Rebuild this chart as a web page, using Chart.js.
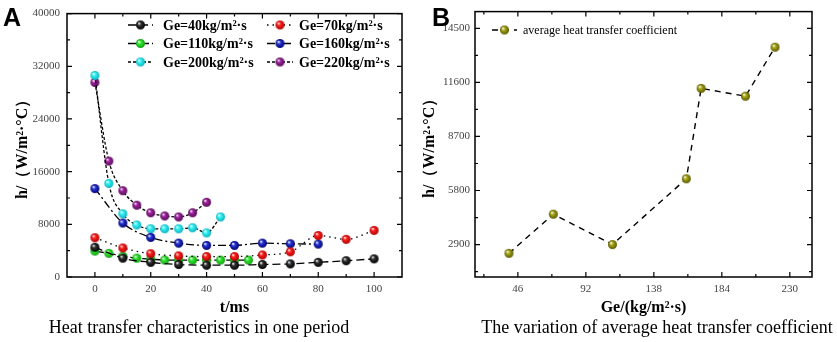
<!DOCTYPE html>
<html><head><meta charset="utf-8">
<script src="https://cdn.jsdelivr.net/npm/chart.js@4/dist/chart.umd.min.js"></script>
<style>
body{margin:0;background:#fff;width:837px;height:342px;position:relative;overflow:hidden;font-family:"Liberation Serif","Times New Roman",serif}
#ca{position:absolute;left:0;top:0}
#cb{position:absolute;left:418px;top:0}
.cap{position:absolute;top:317px;font-size:18px;line-height:21px;white-space:nowrap;transform:translateX(-50%);color:#000}
.pl{position:absolute;font-family:"Liberation Sans",Arial,sans-serif;font-weight:bold;font-size:25px;line-height:25px;color:#000}
</style></head>
<body>
<canvas id="ca" width="418" height="318"></canvas>
<canvas id="cb" width="419" height="318"></canvas>
<div class="pl" style="left:3px;top:5px">A</div>
<div class="pl" style="left:432px;top:5px">B</div>
<div class="cap" style="left:199px">Heat transfer characteristics in one period</div>
<div class="cap" style="left:657px">The variation of average heat transfer coefficient</div>
<script>
// ---- Panel A data ----
const t40 = [0,10,20,30,40,50,60,70,80,90,100];
const h40 = [4510,2860,2230,1890,1790,1790,1890,1990,2230,2470,2760];
const t70 = [0,10,20,30,40,50,60,70,80,90,100];
const h70 = [5970,4410,3540,3200,3100,3100,3350,3830,6300,5720,7080];
const t110 = [0,5,10,15,20,25,30,35,40,45,50,55];
const h110 = [3930,3590,3150,2860,2710,2570,2570,2570,2570,2570,2570,2570];
const t160 = [0,10,20,30,40,50,60,70,80];
const h160 = [13430,8200,6010,5140,4800,4800,5140,5040,5000];
const t200 = [0,5,10,15,20,25,30,35,40,45];
const h200 = [30600,14210,9600,7900,7320,7320,7320,7470,6700,9120];
const t220 = [0,5,10,15,20,25,30,35,40];
const h220 = [29540,17600,13100,10900,9750,9270,9120,9750,11350];
const seriesNamesA = ['Ge=40kg/m²·s','Ge=70kg/m²·s','Ge=110kg/m²·s','Ge=160kg/m²·s','Ge=200kg/m²·s','Ge=220kg/m²·s'];
const xTicksA = [0,20,40,60,80,100];
const xMinorA = [10,30,50,70,90];
const yTicksA = [0,8000,16000,24000,32000,40000];
const yMinorA = [4000,12000,20000,28000,36000];
// ---- Panel B data ----
const geX = [40,70,110,160,170,200,220];
const hAvg = [2430,4530,2900,6430,11280,10860,13490];
const seriesNameB = 'average heat transfer coefficient';
const xTicksB = [46,92,138,184,230];
const xMinorB = [23,69,115,161,207];
const yTicksB = [2900,5800,8700,11600,14500];
const yMinorB = [1450,4350,7250,10150,13050];

function sphere(base, dark, d){
  const c=document.createElement('canvas'); c.width=c.height=d+2;
  const g=c.getContext('2d'); const r=d/2, cx=r+1, cy=r+1;
  const grad=g.createRadialGradient(cx-r*0.35,cy-r*0.4,r*0.05,cx,cy,r);
  grad.addColorStop(0,'#ffffff'); grad.addColorStop(0.35,base); grad.addColorStop(1,dark);
  g.fillStyle=grad; g.beginPath(); g.arc(cx,cy,r,0,Math.PI*2); g.fill();
  return c;
}
const stylesA = [
  {img:sphere('#333','#000',9), dash:[8,4]},
  {img:sphere('#ff2020','#b00000',9), dash:[1.5,4]},
  {img:sphere('#30e830','#10a010',9), dash:[9,3]},
  {img:sphere('#2838d8','#000070',9), dash:[8,3,2,3]},
  {img:sphere('#30f4f4','#10b0c0',9), dash:[3,2]},
  {img:sphere('#a020a0','#581058',9), dash:[3,2]}
];
const tA=[t40,t70,t110,t160,t200,t220], hA=[h40,h70,h110,h160,h200,h220];
const dsA = tA.map((t,i)=>({
  label: seriesNamesA[i],
  data: t.map((x,j)=>({x, y:hA[i][j]})),
  showLine:true, borderColor:'#000', borderWidth:1.3, borderDash:stylesA[i].dash,
  pointStyle:stylesA[i].img, pointRadius:4.5, cubicInterpolationMode:'monotone'
}));

const framePlugin = {
  id:'frame',
  afterDraw(chart, args, o){
    const ctx=chart.ctx, a=chart.chartArea, xs=chart.scales.x, ys=chart.scales.y;
    ctx.save();
    ctx.setLineDash([]);
    ctx.strokeStyle='#000'; ctx.lineWidth=1.5;
    ctx.strokeRect(a.left,a.top,a.right-a.left,a.bottom-a.top);
    ctx.lineWidth=1.2;
    const tk=(vals,len,horiz)=>{
      vals.forEach(v=>{
        ctx.beginPath();
        if(horiz){const p=xs.getPixelForValue(v);
          ctx.moveTo(p,a.bottom);ctx.lineTo(p,a.bottom-len);ctx.moveTo(p,a.top);ctx.lineTo(p,a.top+len);}
        else{const p=ys.getPixelForValue(v);
          ctx.moveTo(a.left,p);ctx.lineTo(a.left+len,p);ctx.moveTo(a.right,p);ctx.lineTo(a.right-len,p);}
        ctx.stroke();
      });
    };
    tk(o.xMajor,5,true); tk(o.xMinor,3,true); tk(o.yMajor,5,false); tk(o.yMinor,3,false);
    // legend
    o.legend.forEach(L=>{
      ctx.setLineDash(L.dash); ctx.lineWidth=1.4; ctx.strokeStyle='#000';
      ctx.beginPath(); ctx.moveTo(L.x1,L.y); ctx.lineTo(L.x2,L.y); ctx.stroke();
      ctx.setLineDash([]);
      const im=L.img; ctx.drawImage(im,(L.x1+L.x2)/2-im.width/2,L.y-im.height/2);
      ctx.fillStyle='#000'; ctx.font=L.font; ctx.textBaseline='middle'; ctx.textAlign='left';
      ctx.fillText(L.text,L.tx,L.y+1);
    });
    ctx.restore();
  }
};

const legA = seriesNamesA.map((n,i)=>{
  const col=i%2, row=Math.floor(i/2);
  return {text:n, img:stylesA[i].img, dash:stylesA[i].dash,
    x1: col?267:128, x2: col?293:153, tx: col?299:163, y: 25+row*18.5,
    font:'bold 14px "Liberation Serif"'};
});

new Chart(document.getElementById('ca'),{
  type:'scatter',
  data:{datasets:dsA},
  plugins:[framePlugin],
  options:{
    responsive:false, animation:false, devicePixelRatio:1,
    layout:{padding:{left:0,right:16,top:7,bottom:0}},
    plugins:{legend:{display:false}, tooltip:{enabled:false},
      frame:{xMajor:xTicksA,xMinor:xMinorA,yMajor:yTicksA,yMinor:yMinorA,legend:legA}},
    scales:{
      x:{type:'linear',min:-10,max:110,
        afterBuildTicks:s=>{s.ticks=xTicksA.map(v=>({value:v}));},
        afterFit:s=>{s.height=41;},
        grid:{display:false,drawTicks:false}, border:{display:false},
        ticks:{autoSkip:false,maxRotation:0,padding:6,color:'#444',font:{family:'Liberation Serif',size:11}},
        title:{display:true,text:'t/ms',color:'#000',font:{family:'Liberation Serif',size:16,weight:'bold'},padding:{top:0,bottom:1}}},
      y:{type:'linear',min:0,max:40000,
        afterBuildTicks:s=>{s.ticks=yTicksA.map(v=>({value:v}));},
        afterFit:s=>{s.width=67;},
        grid:{display:false,drawTicks:false}, border:{display:false},
        ticks:{autoSkip:false,padding:7,color:'#444',font:{family:'Liberation Serif',size:11},callback:v=>String(v)},
        title:{display:true,text:'h/（W/m²·°C）',color:'#000',font:{family:'Liberation Serif',size:16,weight:'bold'},padding:{top:13,bottom:0}}}
    }
  }
});

const imgB = sphere('#a8a818','#5a5a00',9);
const legB = [{text:seriesNameB, img:imgB, dash:[6,5], x1:74, x2:99, tx:105, y:30, font:'12px "Liberation Serif"'}];

new Chart(document.getElementById('cb'),{
  type:'scatter',
  data:{datasets:[{label:seriesNameB, data:geX.map((x,j)=>({x,y:hAvg[j]})),
    showLine:true, borderColor:'#000', borderWidth:1.4, borderDash:[6,5], pointStyle:imgB, pointRadius:4.5, tension:0}]},
  plugins:[framePlugin],
  options:{
    responsive:false, animation:false, devicePixelRatio:1,
    layout:{padding:{left:0,right:25,top:7,bottom:0}},
    plugins:{legend:{display:false}, tooltip:{enabled:false},
      frame:{xMajor:xTicksB,xMinor:xMinorB,yMajor:yTicksB,yMinor:yMinorB,legend:legB}},
    scales:{
      x:{type:'linear',min:17,max:245,
        afterBuildTicks:s=>{s.ticks=xTicksB.map(v=>({value:v}));},
        afterFit:s=>{s.height=41;},
        grid:{display:false,drawTicks:false}, border:{display:false},
        ticks:{autoSkip:false,maxRotation:0,padding:6,color:'#444',font:{family:'Liberation Serif',size:11}},
        title:{display:true,text:'Ge/(kg/m²·s)',color:'#000',font:{family:'Liberation Serif',size:16,weight:'bold'},padding:{top:0,bottom:1}}},
      y:{type:'linear',min:1160,max:15400,
        afterBuildTicks:s=>{s.ticks=yTicksB.map(v=>({value:v}));},
        afterFit:s=>{s.width=57;},
        grid:{display:false,drawTicks:false}, border:{display:false},
        ticks:{autoSkip:false,padding:5,color:'#444',font:{family:'Liberation Serif',size:11},callback:v=>String(v)},
        title:{display:true,text:'h/（W/m²·°C）',color:'#000',font:{family:'Liberation Serif',size:16,weight:'bold'},padding:{top:2,bottom:0}}}
    }
  }
});
</script>
</body></html>
